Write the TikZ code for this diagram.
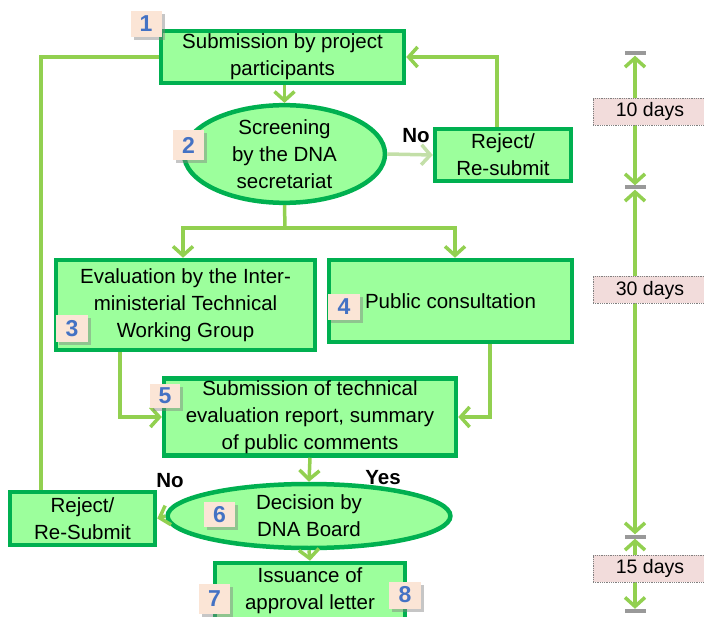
\documentclass[tikz,border=0pt]{standalone}
\usepackage{fontspec}
\setmainfont{Liberation Sans}
\usetikzlibrary{arrows.meta,shapes.geometric,shadows}
\definecolor{dkgreen}{HTML}{00B050}
\definecolor{ltgreen}{HTML}{9CFF9C}
\definecolor{lgreen}{HTML}{92D050}
\definecolor{palegreen}{HTML}{C3DFA8}
\definecolor{peach}{HTML}{FBE5D6}
\definecolor{pinklab}{HTML}{F2DCDB}
\definecolor{numblue}{HTML}{4472C4}
\definecolor{bargray}{HTML}{999999}
\newcommand\fsz{\fontsize{20.5}{27}\selectfont}
\newcommand\dsz{\fontsize{19.5}{24}\selectfont}
\newcommand\bsz{\fontsize{23}{24}\selectfont}
\tikzset{
  box/.style={draw=dkgreen, line width=4.5pt, fill=ltgreen, inner sep=0pt, align=center, font=\fsz, rectangle},
  ell/.style={box, ellipse},
  conn/.style={draw=lgreen, line width=3.5pt, -{Straight Barb[length=9pt,width=20pt]}},
  plain/.style={draw=lgreen, line width=3.5pt},
  badge/.style={fill=peach, inner sep=0pt, font=\bsz\bfseries\color{numblue},
     drop shadow={shadow xshift=3pt, shadow yshift=-3pt, opacity=0.45, fill=gray}},
  yn/.style={font=\fsz\bfseries, inner sep=0pt},
  tlarrow/.style={draw=lgreen, line width=3.5pt, {Straight Barb[length=9pt,width=20pt]}-{Straight Barb[length=9pt,width=20pt]}},
  bar/.style={fill=bargray, minimum width=21pt, minimum height=4pt, inner sep=0pt},
  daylab/.style={draw=gray, densely dotted, line width=0.8pt, fill=pinklab, minimum width=114pt, minimum height=27pt, inner sep=0pt, font=\dsz}
}
\begin{document}
\begin{tikzpicture}[x=1pt,y=-1pt]
\useasboundingbox (0,0) rectangle (704,617);
\clip (0,0) rectangle (704,617);

% main nodes
\node[box, minimum width=243pt, minimum height=52pt] (b1) at (282.5,57) {Submission by project\\participants};
\node[ell, minimum width=201pt, minimum height=84pt] (e2) at (284.5,154) {Screening\\by the DNA\\secretariat};
\node[box, minimum width=136pt, minimum height=52pt] (r1) at (503,155) {Reject/\\Re-submit};
\node[box, minimum width=259pt, minimum height=90pt] (b3) at (185.5,305) {Evaluation by the Inter-\\ministerial Technical\\Working Group};
\node[box, minimum width=243pt, minimum height=82pt] (b4) at (450.5,301) {Public consultation};
\node[box, minimum width=292pt, minimum height=77pt] (b5) at (310,417) {Submission of technical\\evaluation report, summary\\of public comments};
\node[ell, minimum width=220pt, minimum height=64pt] (e6) at (309,516) {\raisebox{-7pt}{\parbox{200pt}{\centering Decision by\\DNA Board}}};
\node[box, minimum width=145pt, minimum height=53pt] (r2) at (82.5,518.5) {Reject/\\Re-Submit};
\node[box, minimum width=190pt, minimum height=56pt] (b7) at (310,591) {Issuance of\\approval letter};

% connectors
\draw[conn] (b1.south -| e2.north) -- (e2.north);
\draw[conn, draw=palegreen] (e2.east) -- (r1.west);
\coordinate (r1up) at ([xshift=-6pt]r1.north);
\draw[conn] (r1up) |- (b1.east);
\coordinate (split) at (285,228);
\draw[plain] (e2.south) -- (split);
\coordinate (b3in) at ([xshift=-2.5pt]b3.north);
\coordinate (b4in) at ([xshift=4.5pt]b4.north);
\draw[conn] (split) -| (b3in);
\draw[conn] (split) -| (b4in);
\coordinate (b3out) at ([xshift=-65.5pt]b3.south);
\coordinate (b4out) at ([xshift=39.5pt]b4.south);
\draw[conn] (b3out) |- (b5.west);
\draw[conn] (b4out) |- (b5.east);
\draw[conn] (b5.south) -- (e6.north);
\draw[conn] (e6.west) -- (r2.east);
\coordinate (r2up) at ([xshift=-41.5pt]r2.north);
\draw[plain] (r2up) |- (b1.west);
\draw[conn] (e6.south) -- (b7.north);

% yes / no labels
\node[yn] (no1) at (416,136) {No};
\node[yn] (no2) at (170,481) {No};
\node[yn] (yes) at (383,478) {Yes};

% badges
\node[badge, minimum width=31pt, minimum height=26pt] (n1) at (146,24) {1};
\node[badge, minimum width=31pt, minimum height=30pt] (n2) at (188.5,145) {2};
\node[badge, minimum width=32pt, minimum height=27pt] (n3) at (72,329) {3};
\node[badge, minimum width=32pt, minimum height=26pt] (n4) at (344,307) {4};
\node[badge, minimum width=30pt, minimum height=24pt] (n5) at (165,396) {5};
\node[badge, minimum width=31pt, minimum height=25pt] (n6) at (219.5,514.5) {6};
\node[badge, minimum width=31pt, minimum height=30pt] (n7) at (214.5,599) {7};
\node[badge, minimum width=32pt, minimum height=27pt] (n8) at (405,595) {8};

% timeline
\node[bar] (t0) at (635,53.5) {};
\node[bar] (t1) at (635,187.5) {};
\node[bar] (t2) at (635,536.5) {};
\node[bar] (t3) at (635,611) {};
\draw[tlarrow] (t0.south) -- (t1.north);
\draw[tlarrow] (t1.south) -- (t2.north);
\draw[tlarrow] (t2.south) -- (t3.north);
\node[daylab] (d1) at (650,111.5) {10 days};
\node[daylab] (d2) at (650,290) {30 days};
\node[daylab] (d3) at (650,568.5) {15 days};
\end{tikzpicture}
\end{document}
